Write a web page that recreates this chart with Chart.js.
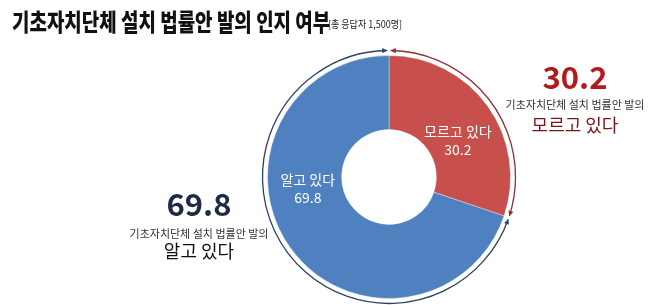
<!DOCTYPE html>
<html>
<head>
<meta charset="utf-8">
<script src="https://cdn.jsdelivr.net/npm/chart.js@4"></script>
<style>
  body { margin: 0; background: #fff; }
  #wrap { position: relative; width: 658px; height: 305px; overflow: hidden; font-family: "Noto Sans CJK KR", "Noto Sans", sans-serif; }
  canvas { position: absolute; left: 0; top: 0; }
  .t { position: absolute; white-space: nowrap; line-height: 1; }
  #title { left: 12px; top: 9px; font-size: 24px; font-weight: 900; color: #111; transform: scaleX(0.79); transform-origin: left top; }
  #sub { left: 328px; top: 19px; font-size: 10px; color: #222; transform: scaleX(0.9); transform-origin: left top; }
  .c { transform: translateX(-50%); text-align: center; }
</style>
</head>
<body>
<div id="wrap">
  <canvas id="chart" width="658" height="305"></canvas>
  <div class="t" id="title">기초자치단체 설치 법률안 발의 인지 여부</div>
  <div class="t" id="sub">[총 응답자 1,500명]</div>

  <div class="t c" style="left:575px; top:60px; font-size:31px; font-weight:700; color:#b3191f;" id="rVal"></div>
  <div class="t c" style="left:575px; top:99px; font-size:11px; color:#333;">기초자치단체 설치 법률안 발의</div>
  <div class="t c" style="left:575px; top:115px; font-size:18px; font-weight:400; color:#7e1519;" id="rName"></div>

  <div class="t c" style="left:199px; top:187px; font-size:31px; font-weight:700; color:#1f2b45;" id="lVal"></div>
  <div class="t c" style="left:199px; top:228px; font-size:11px; color:#333;">기초자치단체 설치 법률안 발의</div>
  <div class="t c" style="left:199px; top:241px; font-size:18px; font-weight:400; color:#111;" id="lName"></div>
</div>
<script>
// values
const categories = ['모르고 있다', '알고 있다'];
const values = [30.2, 69.8];
const sliceColors = ['#c8504c', '#4f81c1'];
const ringColors = ['#8f2f33', '#2f4263'];

document.getElementById('rVal').textContent = values[0].toFixed(1);
document.getElementById('rName').textContent = categories[0];
document.getElementById('lVal').textContent = values[1].toFixed(1);
document.getElementById('lName').textContent = categories[1];

// label spot per slice: degrees clockwise from top, distance from centre
const labelSpots = [{ ang: 62, r: 78 }, { ang: 262, r: 82 }];

const sliceLabels = {
  id: 'sliceLabels',
  afterDatasetsDraw(chart) {
    const ctx = chart.ctx;
    const meta = chart.getDatasetMeta(0);
    ctx.save();
    ctx.fillStyle = '#fff';
    ctx.font = '14px "Noto Sans CJK KR"';
    ctx.textAlign = 'center';
    ctx.textBaseline = 'middle';
    meta.data.forEach((el, i) => {
      const s = labelSpots[i];
      const a = s.ang * Math.PI / 180;
      const x = el.x + s.r * Math.sin(a);
      const y = el.y - s.r * Math.cos(a);
      ctx.fillText(chart.data.labels[i], x, y - 9);
      ctx.fillText(chart.data.datasets[0].data[i].toFixed(1), x, y + 9);
    });
    ctx.restore();
  }
};

// thin arcs with arrowheads just outside each slice
const ringArrows = {
  id: 'ringArrows',
  afterDatasetsDraw(chart) {
    const ctx = chart.ctx;
    const meta = chart.getDatasetMeta(0);
    const gap = 0.014;
    ctx.save();
    meta.data.forEach((el, i) => {
      const R = el.outerRadius + 5;
      const a0 = el.startAngle + gap;
      const a1 = el.endAngle - gap;
      ctx.strokeStyle = ringColors[i];
      ctx.fillStyle = ringColors[i];
      ctx.lineWidth = 1.3;
      ctx.beginPath();
      ctx.arc(el.x, el.y, R, a0, a1);
      ctx.stroke();
      const head = (a, dir) => {
        const px = el.x + R * Math.cos(a);
        const py = el.y + R * Math.sin(a);
        const tx = -Math.sin(a) * dir, ty = Math.cos(a) * dir;
        const nx = Math.cos(a), ny = Math.sin(a);
        ctx.beginPath();
        ctx.moveTo(px, py);
        ctx.lineTo(px - tx * 5 + nx * 2.6, py - ty * 5 + ny * 2.6);
        ctx.lineTo(px - tx * 5 - nx * 2.6, py - ty * 5 - ny * 2.6);
        ctx.closePath();
        ctx.fill();
      };
      head(a1, 1);
      head(a0, -1);
    });
    ctx.restore();
  }
};

new Chart(document.getElementById('chart'), {
  type: 'doughnut',
  data: {
    labels: categories,
    datasets: [{
      data: values,
      backgroundColor: sliceColors,
      borderColor: 'rgba(255,255,255,0.35)',
      borderWidth: 1,
    }],
  },
  options: {
    responsive: false,
    animation: false,
    cutout: '39%',
    layout: { padding: { left: 267, right: 147, top: 55, bottom: 6 } },
    plugins: {
      legend: { display: false },
      tooltip: { enabled: false },
    },
  },
  plugins: [sliceLabels, ringArrows],
});
</script>
</body>
</html>
